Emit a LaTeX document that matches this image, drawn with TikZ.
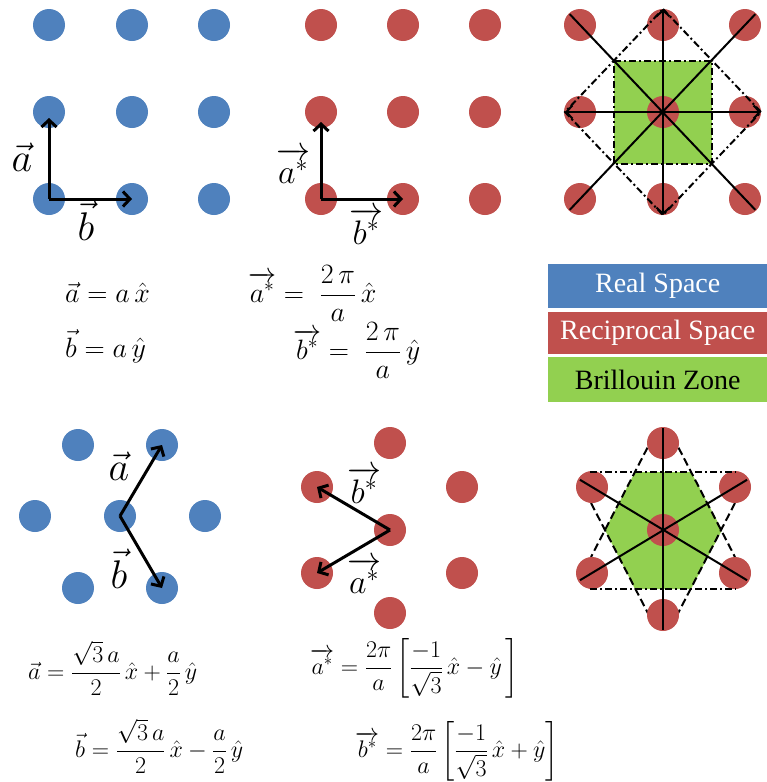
\RequirePackage{fix-cm}
\documentclass[tikz,border=0pt]{standalone}
\usepackage{fontspec}
\setmainfont{Liberation Serif}
\usepackage{amsmath}
\usetikzlibrary{arrows.meta,calc}
\definecolor{bdotc}{HTML}{4F81BD}
\definecolor{rdotc}{HTML}{C0504D}
\definecolor{bzc}{HTML}{92D050}
\begin{document}
\begin{tikzpicture}[x=1pt,y=-1pt,
  bdot/.style={circle,fill=bdotc,minimum size=32pt,inner sep=0pt,draw=none},
  rdot/.style={circle,fill=rdotc,minimum size=32pt,inner sep=0pt,draw=none},
  vecarr/.style={line width=3pt,line join=round,-{Straight Barb[length=7pt,width=15pt,line width=3pt]}},
  axarr/.style={line width=2pt,{Straight Barb[length=6pt,width=13pt]}-{Straight Barb[length=6pt,width=13pt]}},
  axline/.style={line width=2pt},
  dashdot/.style={line width=2pt,dash pattern=on 7pt off 3pt on 2pt off 3pt},
  dashln/.style={line width=2pt,dash pattern=on 8pt off 4pt},
  biglab/.style={font=\fontsize{40}{44}\selectfont,inner sep=0pt},
  midlab/.style={font=\fontsize{34}{38}\selectfont,inner sep=0pt},
  eqbig/.style={font=\fontsize{28}{34}\selectfont,anchor=base west,inner sep=0pt},
  eqsm/.style={font=\fontsize{24}{30}\selectfont,anchor=base west,inner sep=0pt},
  legbox/.style={anchor=north west,minimum width=219pt,inner sep=0pt,font=\fontsize{28}{32}\selectfont}
]
\useasboundingbox (0,0) rectangle (767,782);

% ---------- top-left: real space square lattice ----------
\foreach \r/\y in {1/25,2/112,3/199}{
  \foreach \c/\x in {1/49,2/132,3/214}{
    \node[bdot] (tl\r\c) at (\x,\y) {};
  }}
\draw[vecarr,shorten >=6pt] (tl31.center) -- (tl21.center);
\draw[vecarr] (tl31.center) -- (tl32.center);
\node[biglab] (lta) at (22,157) {$\vec{a}$};
\node[biglab] (ltb) at (86,221) {$\vec{b}$};

% ---------- top-middle: reciprocal square lattice ----------
\foreach \r/\y in {1/25,2/112,3/199}{
  \foreach \c/\x in {1/321,2/403,3/485}{
    \node[rdot] (tm\r\c) at (\x,\y) {};
  }}
\draw[vecarr,shorten >=10pt] (tm31.center) -- (tm21.center);
\draw[vecarr] (tm31.center) -- (tm32.center);
\node[midlab] (lmas) at (293,166) {$\overrightarrow{a^{*}}$};
\node[midlab] (lmbs) at (366,226) {$\overrightarrow{b^{*}}$};

% ---------- top-right: square Brillouin zone ----------
\foreach \r/\y in {1/25,2/112,3/199}{
  \foreach \c/\x in {1/580,2/663,3/745}{
    \node[rdot] (tr\r\c) at (\x,\y) {};
  }}
\coordinate (dmT) at (663,9);
\coordinate (dmR) at (761,112);
\coordinate (dmB) at (663,215);
\coordinate (dmL) at (565,112);
\coordinate (sqA) at ($(dmT)!0.5!(dmL)$);
\coordinate (sqB) at ($(dmT)!0.5!(dmR)$);
\coordinate (sqC) at ($(dmB)!0.5!(dmR)$);
\coordinate (sqD) at ($(dmB)!0.5!(dmL)$);
\fill[bzc] (sqA) -- (sqB) -- (sqC) -- (sqD) -- cycle;
\node[rdot] (trc) at (663,112) {};
\draw[dashdot] (dmT) -- (dmR) -- (dmB) -- (dmL) -- cycle;
\draw[dashdot] (sqA) -- (sqB) -- (sqC) -- (sqD) -- cycle;
\draw[axline,shorten <=-15pt,shorten >=-15pt] (tr11.center) -- (tr33.center);
\draw[axline,shorten <=-15pt,shorten >=-15pt] (tr13.center) -- (tr31.center);
\draw[axarr] (dmL) -- (dmR);
\draw[axarr] (dmT) -- (dmB);

% ---------- legend ----------
\node[legbox,fill=bdotc,text=white,minimum height=44pt] (lgreal) at (548,264) {Real Space};
\node[legbox,fill=rdotc,text=white,minimum height=42pt] (lgrec) at (548,312) {Reciprocal Space};
\node[legbox,fill=bzc,text=black,minimum height=45pt] (lgbz) at (548,357) {Brillouin Zone};

% ---------- top equations ----------
\node[eqbig] (eqa) at (65,302) {$\vec{a} = a\,\hat{x}$};
\node[eqbig] (eqb) at (65,357) {$\vec{b} = a\,\hat{y}$};
\node[eqbig] (eqas) at (248,302) {$\overrightarrow{a^{*}} = \;\dfrac{2\,\pi}{a}\,\hat{x}$};
\node[eqbig] (eqbs) at (293,359) {$\overrightarrow{b^{*}} = \;\dfrac{2\,\pi}{a}\,\hat{y}$};

% ---------- bottom-left: real hexagonal lattice ----------
\node[bdot] (blUL) at (78,445) {};
\node[bdot] (blUR) at (162,445) {};
\node[bdot] (blL) at (35,516) {};
\node[bdot] (blC) at (120,516) {};
\node[bdot] (blR) at (205,516) {};
\node[bdot] (blLL) at (78,588) {};
\node[bdot] (blLR) at (162,588) {};
\draw[vecarr] (blC.center) -- (blUR.center);
\draw[vecarr] (blC.center) -- (blLR.center);
\node[biglab] (lba) at (119,466) {$\vec{a}$};
\node[biglab] (lbb) at (119,569) {$\vec{b}$};

% ---------- bottom-middle: reciprocal hexagonal lattice ----------
\node[rdot] (bmT) at (390,443) {};
\node[rdot] (bmUL) at (317,487) {};
\node[rdot] (bmUR) at (462,487) {};
\node[rdot] (bmC) at (390,530) {};
\node[rdot] (bmLL) at (317,573) {};
\node[rdot] (bmLR) at (462,573) {};
\node[rdot] (bmB) at (390,613) {};
\draw[vecarr] (bmC.center) -- (bmUL.center);
\draw[vecarr] (bmC.center) -- (bmLL.center);
\node[midlab] (lbbs) at (364,485) {$\overrightarrow{b^{*}}$};
\node[midlab] (lbas) at (364,576) {$\overrightarrow{a^{*}}$};

% ---------- bottom-right: hexagonal Brillouin zone ----------
\coordinate (hx1) at (635,472);
\coordinate (hx2) at (691,472);
\coordinate (hx3) at (722,530);
\coordinate (hx4) at (691,589);
\coordinate (hx5) at (635,589);
\coordinate (hx6) at (605,530);
\fill[bzc] (hx1) -- (hx2) -- (hx3) -- (hx4) -- (hx5) -- (hx6) -- cycle;
\coordinate (d1a) at (653,437); \coordinate (d1b) at (591,557);
\coordinate (d2a) at (591,503); \coordinate (d2b) at (653,623);
\coordinate (d3a) at (673,437); \coordinate (d3b) at (735,557);
\coordinate (d4a) at (735,503); \coordinate (d4b) at (673,623);
\draw[dashln] (d1a) -- (d1b);
\draw[dashln] (d2a) -- (d2b);
\draw[dashln] (d3a) -- (d3b);
\draw[dashln] (d4a) -- (d4b);
\node[rdot] (brT) at (663,443) {};
\node[rdot] (brUL) at (592,487) {};
\node[rdot] (brUR) at (735,487) {};
\node[rdot] (brC) at (663,530) {};
\node[rdot] (brLL) at (592,573) {};
\node[rdot] (brLR) at (735,573) {};
\node[rdot] (brB) at (663,615) {};
\coordinate (h1a) at (590,472); \coordinate (h1b) at (736,472);
\coordinate (h2a) at (590,589); \coordinate (h2b) at (736,589);
\draw[dashdot] (h1a) -- (h1b);
\draw[dashdot] (h2a) -- (h2b);
\draw[axline,shorten <=-15pt,shorten >=-15pt] (brT.center) -- (brB.center);
\draw[axline,shorten <=-14pt,shorten >=-14pt] (brUL.center) -- (brLR.center);
\draw[axline,shorten <=-14pt,shorten >=-14pt] (brLL.center) -- (brUR.center);

% ---------- bottom equations ----------
\node[eqsm] (eqa2) at (28,679) {$\vec{a} = \dfrac{\sqrt{3}\,a}{2}\,\hat{x} + \dfrac{a}{2}\,\hat{y}$};
\node[eqsm] (eqb2) at (75,757) {$\vec{b} = \dfrac{\sqrt{3}\,a}{2}\,\hat{x} - \dfrac{a}{2}\,\hat{y}$};
\node[eqsm] (eqas2) at (310,674) {$\overrightarrow{a^{*}} = \dfrac{2\pi}{a}\left[\dfrac{-1}{\sqrt{3}}\,\hat{x} - \hat{y}\,\right]$};
\node[eqsm] (eqbs2) at (355,757) {$\overrightarrow{b^{*}} = \dfrac{2\pi}{a}\left[\dfrac{-1}{\sqrt{3}}\,\hat{x} + \hat{y}\right]$};
\end{tikzpicture}
\end{document}
